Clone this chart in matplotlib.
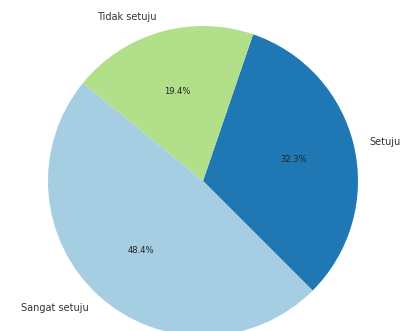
import matplotlib
matplotlib.use('Agg')
import matplotlib.pyplot as plt

# survey answers (31 respondents)
labels = ['Setuju', 'Tidak setuju', 'Sangat setuju']
counts = [10, 6, 15]
colors = ['#1f78b4', '#b2df8a', '#a6cee3']

fig = plt.figure(figsize=(4.04, 3.31), dpi=100)
ax = fig.add_axes([0, 0, 1, 1])

wedges, texts, autotexts = ax.pie(counts, labels=labels, colors=colors,
                                  autopct='%1.1f%%', startangle=-45,
                                  textprops={'fontsize': 7, 'color': '#333333'})
for t in autotexts:
    t.set_fontsize(6)
    t.set_color('#222222')

# pie of radius 1 centred at (203, 181) px, radius ~155 px
ax.set_aspect('auto')
ax.set_xlim(-203 / 155, (404 - 203) / 155)
ax.set_ylim(-150 / 155, (331 - 150) / 155)

fig.savefig('out.png', dpi=100)
